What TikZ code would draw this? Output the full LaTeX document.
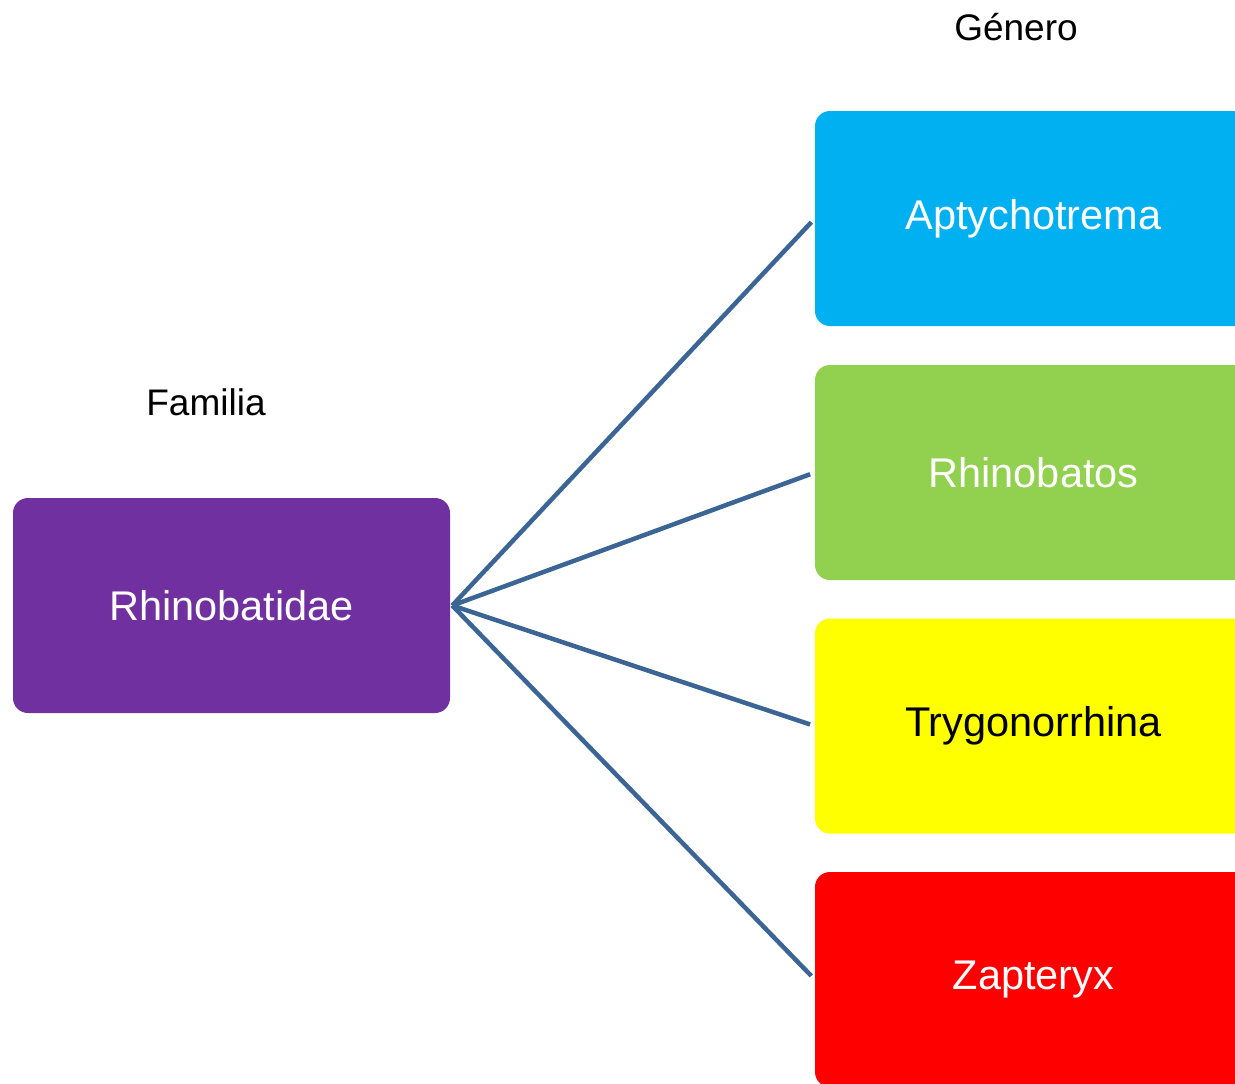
\documentclass[tikz,border=0pt]{standalone}
\usepackage{fontspec}
\setmainfont{Liberation Sans}
\definecolor{famfill}{HTML}{7030A0}
\definecolor{genA}{HTML}{00B0F0}
\definecolor{genB}{HTML}{92D050}
\definecolor{genC}{HTML}{FFFF00}
\definecolor{genD}{HTML}{FF0000}
\definecolor{linkcol}{HTML}{3A6595}
\begin{document}
\begin{tikzpicture}[x=1pt,y=-1pt,
  taxbox/.style={rectangle, rounded corners=15pt, minimum width=437pt,
    minimum height=215pt, inner sep=0pt, draw=none,
    font=\fontsize{41.5}{49}\selectfont, text=white},
  heading/.style={font=\fontsize{37}{44}\selectfont, text=black, inner sep=0pt},
  link/.style={draw=linkcol, line width=4.5pt, shorten >=5pt}]
  \useasboundingbox (0,0) rectangle (1235,1084);
  \clip (0,0) rectangle (1235,1084);
  \fill[white] (0,0) rectangle (1235,1084);

  % headings
  \node[heading] (famlabel) at (206,402) {Familia};
  \node[heading] (genlabel) at (1016,27) {Género};

  % family box
  \node[taxbox, fill=famfill] (fam) at (231.5,605.5) {Rhinobatidae};

  % genus boxes
  \node[taxbox, fill=genA] (apt) at (1033.5,218.5) {Aptychotrema};
  \node[taxbox, fill=genB] (rhi) at (1033.5,472.5) {Rhinobatos};
  \node[taxbox, fill=genC, text=black] (try) at (1033.5,726) {Trygonorrhina};
  \node[taxbox, fill=genD] (zap) at (1033.5,979.5) {Zapteryx};

  % connectors
  \foreach \g in {apt,rhi,try,zap}
    \draw[link] ([xshift=2pt]fam.east) -- (\g.west);
\end{tikzpicture}
\end{document}
